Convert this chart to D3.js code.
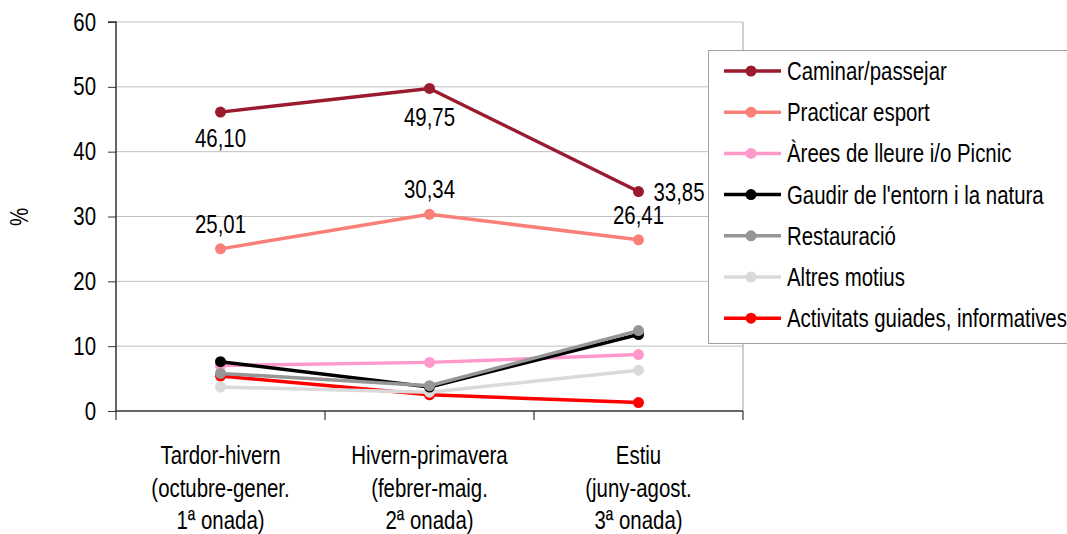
<!DOCTYPE html>
<html><head><meta charset="utf-8">
<script src="https://cdn.jsdelivr.net/npm/d3@7"></script>
<style>body{margin:0;background:#fff}svg{display:block;font-family:"Liberation Sans",Arial,sans-serif}</style>
</head><body><svg id="c" width="1067" height="534"></svg>
<script>
const categories = [
  ["Tardor-hivern","(octubre-gener.","1ª onada)"],
  ["Hivern-primavera","(febrer-maig.","2ª onada)"],
  ["Estiu","(juny-agost.","3ª onada)"]
];
const seriesNames = ["Caminar/passejar","Practicar esport","Àrees de lleure i/o Picnic","Gaudir de l'entorn i la natura","Restauració","Altres motius","Activitats guiades, informatives"];
const seriesColors = ["#9b1b2e","#f98078","#ff99cc","#000000","#969696","#dadada","#ff0000"];
const caminar = [46.10, 49.75, 33.85];
const practicar = [25.01, 30.34, 26.41];
const arees = [7.0, 7.5, 8.7];
const gaudir = [7.6, 3.7, 11.8];
const restauracio = [5.8, 3.9, 12.4];
const altres = [3.7, 2.9, 6.3];
const activitats = [5.4, 2.5, 1.3];
const yTicks = [0,10,20,30,40,50,60];
const labelFmt = v => v.toFixed(2).replace(".", ",");

const seriesValues = [caminar, practicar, arees, gaudir, restauracio, altres, activitats];
const drawOrder = [6,5,2,3,4,1,0];
const FS = 25.5, SX = 0.80;

const svg = d3.select("#c");
const L = 116, R = 743, T = 22, B = 411;
const x = d3.scaleBand().domain(d3.range(categories.length)).range([L, R]);
const y = d3.scaleLinear().domain([0, 60]).range([B, T]);
const cx = i => x(i) + x.bandwidth()/2;

function addText(parent, px, py, str, anchor) {
  return parent.append("text").attr("transform", `translate(${px},${py}) scale(${SX},1)`)
    .attr("text-anchor", anchor || "start").attr("font-size", FS).attr("fill", "#000").text(str);
}

// gridlines
svg.append("g").selectAll("line").data(yTicks.filter(t => t > 0)).join("line")
  .attr("x1", L).attr("x2", R).attr("y1", d => y(d)).attr("y2", d => y(d))
  .attr("stroke", "#c0c0c0").attr("stroke-width", 1);
// plot border right
svg.append("line").attr("x1", R).attr("x2", R).attr("y1", T).attr("y2", B).attr("stroke", "#a0a0a0");

// y axis
const ya = svg.append("g").attr("transform", `translate(${L},0)`)
  .call(d3.axisLeft(y).tickValues(yTicks).tickSize(8).tickPadding(10).tickFormat(d3.format("d")));
ya.select(".domain").attr("stroke", "#333").attr("stroke-width", 1.5).attr("d", `M-8,${T}H0V${B}`);
ya.selectAll(".tick line").attr("stroke", "#333");
ya.selectAll(".tick text").attr("font-size", FS).attr("fill", "#000").attr("font-family", null)
  .attr("x", -20 / SX).attr("transform", `scale(${SX},1)`);

// x axis
const xa = svg.append("g").attr("transform", `translate(0,${B})`)
  .call(d3.axisBottom(x).tickSize(0).tickFormat(""));
xa.select(".domain").attr("stroke", "#333").attr("stroke-width", 1.5).attr("d", `M${L},0H${R}`);
xa.selectAll(".tick").remove();
const bounds = [L, ...d3.range(categories.length).map(i => x(i) + x.bandwidth())];
svg.append("g").selectAll("line").data(bounds).join("line")
  .attr("x1", d => d).attr("x2", d => d).attr("y1", B).attr("y2", B + 9)
  .attr("stroke", "#333").attr("stroke-width", 1.2);

// category labels
categories.forEach((lines, i) => {
  lines.forEach((ln, j) => addText(svg, cx(i), 464 + j * 32.5, ln, "middle"));
});

// y title
svg.append("text").attr("transform", `translate(28,217) rotate(-90) scale(${SX},1)`).attr("text-anchor", "middle")
  .attr("font-size", FS).attr("fill", "#000").text("%");

// series
const line = d3.line().x((d, i) => cx(i)).y(d => y(d));
drawOrder.forEach(s => {
  const g = svg.append("g");
  g.append("path").attr("d", line(seriesValues[s])).attr("fill", "none")
    .attr("stroke", seriesColors[s]).attr("stroke-width", 3.5).attr("stroke-linejoin", "round");
  g.selectAll("circle").data(seriesValues[s]).join("circle")
    .attr("cx", (d, i) => cx(i)).attr("cy", d => y(d)).attr("r", 5.5).attr("fill", seriesColors[s]);
});

// data labels
const labels = [
  {s:0, i:0, dx:0, dy:35, anchor:"middle"},
  {s:0, i:1, dx:0, dy:38, anchor:"middle"},
  {s:0, i:2, dx:15, dy:9, anchor:"start"},
  {s:1, i:0, dx:0, dy:-16, anchor:"middle"},
  {s:1, i:1, dx:0, dy:-16, anchor:"middle"},
  {s:1, i:2, dx:0, dy:-16, anchor:"middle"}
];
labels.forEach(l => {
  addText(svg, cx(l.i) + l.dx, y(seriesValues[l.s][l.i]) + l.dy, labelFmt(seriesValues[l.s][l.i]), l.anchor);
});

// legend
const lg = svg.append("g");
lg.append("rect").attr("x", 708.5).attr("y", 50.5).attr("width", 370).attr("height", 293)
  .attr("fill", "#fff").attr("stroke", "#a0a0a0");
seriesNames.forEach((n, k) => {
  const yy = 71 + k * 41.2;
  lg.append("line").attr("x1", 724).attr("x2", 781).attr("y1", yy).attr("y2", yy)
    .attr("stroke", seriesColors[k]).attr("stroke-width", 3.5);
  lg.append("circle").attr("cx", 751).attr("cy", yy).attr("r", 5.5).attr("fill", seriesColors[k]);
  addText(lg, 787, yy + 9, n, "start");
});
</script></body></html>
